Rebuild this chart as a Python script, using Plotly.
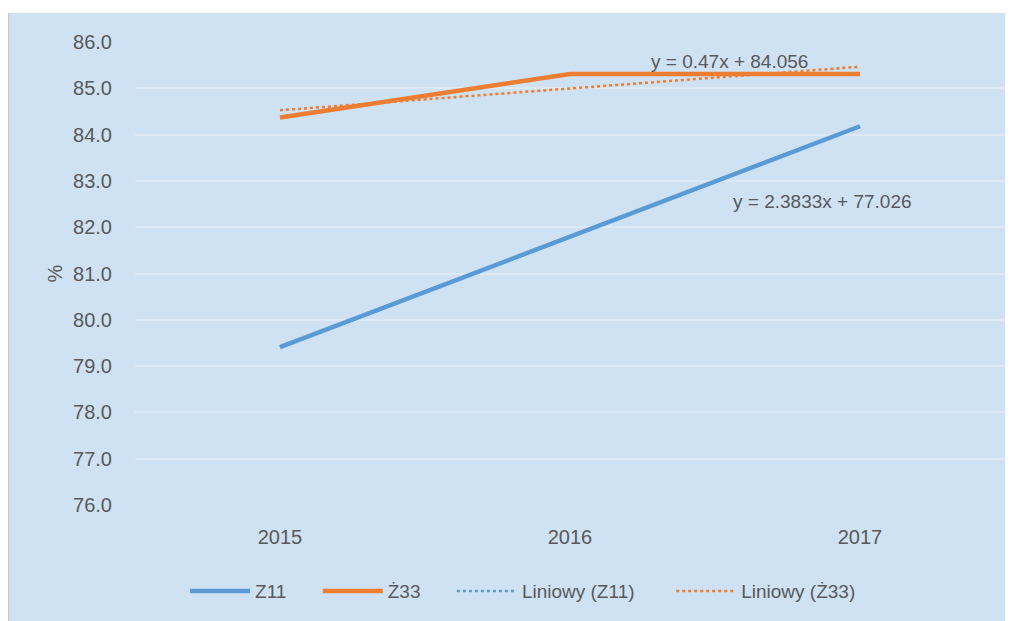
import plotly.graph_objects as go

years = [2015, 2016, 2017]
z11 = [79.41, 81.79, 84.18]
z33 = [84.37, 85.31, 85.31]
# trendline coefficients as printed on the chart (x = 1, 2, 3)
z11_slope, z11_intercept = 2.3833, 77.026
z33_slope, z33_intercept = 0.47, 84.056
y_ticks = [76, 77, 78, 79, 80, 81, 82, 83, 84, 85, 86]

idx = [1, 2, 3]
z11_trend = [z11_slope * i + z11_intercept for i in idx]
z33_trend = [z33_slope * i + z33_intercept for i in idx]

BLUE = "#5b9bd5"
ORANGE = "#ed7d31"
TEXT = "#595959"
BG = "#cfe2f3"
FONT = "Liberation Sans, Arial, sans-serif"
PAD = "\u00a0"

fig = go.Figure()
fig.add_trace(go.Scatter(x=years, y=z11, mode="lines", name="Z11" + PAD * 5,
                         line=dict(color=BLUE, width=4.5)))
fig.add_trace(go.Scatter(x=years, y=z33, mode="lines", name="Ż33" + PAD * 5,
                         line=dict(color=ORANGE, width=4.5)))
fig.add_trace(go.Scatter(x=years, y=z11_trend, mode="lines", name="Liniowy (Z11)" + PAD * 6,
                         line=dict(color=BLUE, width=2.5, dash="dot")))
fig.add_trace(go.Scatter(x=years, y=z33_trend, mode="lines", name="Liniowy (Ż33)",
                         line=dict(color=ORANGE, width=2.5, dash="dot")))

fig.add_annotation(x=2016.55, y=85.57, xref="x", yref="y", showarrow=False,
                   text="y = 0.47x + 84.056", font=dict(family=FONT, size=19, color=TEXT))
fig.add_annotation(x=2016.87, y=82.55, xref="x", yref="y", showarrow=False,
                   text="y = 2.3833x + 77.026", font=dict(family=FONT, size=19, color=TEXT))

# white strip at top and grey frame edge at left of the screenshot
fig.add_shape(type="rect", xref="paper", yref="paper", x0=-0.2, x1=1.1, y0=1.0626, y1=1.2,
              fillcolor="white", line=dict(width=0), layer="above")
fig.add_shape(type="line", xref="paper", yref="paper", x0=-0.1454, x1=-0.1454, y0=-0.3, y1=1.0626,
              line=dict(color="#c8c8c8", width=1.5), layer="above")

fig.update_layout(
    width=1005, height=613,
    margin=dict(l=127, r=8, t=34, b=116),
    paper_bgcolor=BG, plot_bgcolor=BG,
    font=dict(family=FONT, size=20, color=TEXT),
    showlegend=True,
    legend=dict(orientation="h", x=0.446, xanchor="center", y=-0.186, yanchor="middle",
                itemwidth=60,
                font=dict(family=FONT, size=19, color=TEXT), bgcolor="rgba(0,0,0,0)"),
    xaxis=dict(range=[2014.5, 2017.5], tickvals=years, ticktext=[str(y) for y in years],
               showgrid=False, zeroline=False, showline=False,
               ticks="outside", ticklen=14, tickcolor="rgba(0,0,0,0)",
               tickfont=dict(family=FONT, size=20, color=TEXT)),
    yaxis=dict(range=[76, 86], tickvals=y_ticks, tickformat=".1f",
               showgrid=True, gridcolor="#dde9f4", gridwidth=1.5, zeroline=False, showline=False,
               ticks="outside", ticklen=18, tickcolor="rgba(0,0,0,0)",
               tickfont=dict(family=FONT, size=20, color=TEXT),
               title=dict(text="%", standoff=5, font=dict(family=FONT, size=20, color=TEXT))),
)

fig.write_html("out.html")
